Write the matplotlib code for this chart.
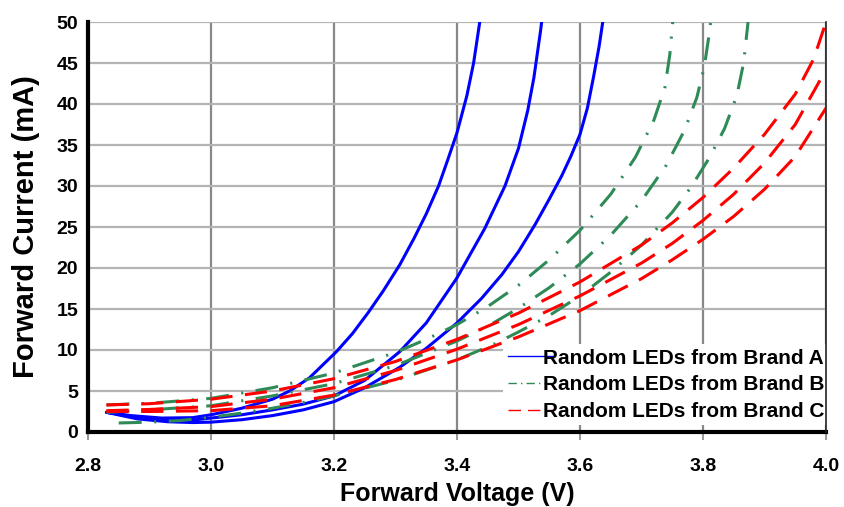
import matplotlib
matplotlib.use("Agg")
import matplotlib.pyplot as plt
from matplotlib.lines import Line2D

# ---------------- data ----------------
a1_v = [2.83, 2.87, 2.92, 2.97, 3.0, 3.05, 3.1, 3.128, 3.16, 3.204, 3.23, 3.256, 3.28, 3.307, 3.33, 3.35, 3.37, 3.385, 3.4, 3.416, 3.427, 3.438]
a1_i = [2.4, 2.0, 1.7, 1.75, 2.1, 2.9, 4.0, 5.0, 6.6, 9.8, 12.0, 14.6, 17.2, 20.4, 23.6, 26.6, 30.0, 33.2, 36.5, 41.0, 45.0, 50.5]

a2_v = [2.83, 2.88, 2.93, 2.97, 3.0, 3.05, 3.1, 3.15, 3.2, 3.25, 3.307, 3.35, 3.4, 3.445, 3.478, 3.5, 3.515, 3.525, 3.536, 3.54]
a2_i = [2.4, 1.8, 1.45, 1.45, 1.7, 2.1, 2.7, 3.4, 4.4, 6.3, 9.8, 13.3, 18.8, 24.8, 30.0, 34.6, 39.2, 43.2, 49.0, 51.5]

a3_v = [2.83, 2.88, 2.93, 2.97, 3.0, 3.05, 3.1, 3.15, 3.2, 3.25, 3.307, 3.35, 3.4, 3.44, 3.473, 3.5, 3.527, 3.55, 3.57, 3.585, 3.6, 3.612, 3.622, 3.631, 3.64]
a3_i = [2.4, 1.6, 1.25, 1.15, 1.2, 1.5, 2.0, 2.7, 3.7, 5.4, 7.9, 10.2, 13.3, 16.3, 19.2, 22.0, 25.3, 28.4, 31.2, 33.6, 36.3, 39.5, 43.3, 47.0, 51.5]

b1_v = [2.83, 2.9, 3.0, 3.1, 3.2, 3.3, 3.35, 3.4, 3.45, 3.5, 3.55, 3.6, 3.65, 3.69, 3.72, 3.738, 3.746, 3.752]
b1_i = [3.3, 3.5, 4.1, 5.4, 7.2, 9.7, 11.3, 13.1, 15.3, 17.9, 21.0, 24.6, 29.0, 33.5, 38.0, 42.0, 46.0, 51.0]

b2_v = [2.83, 2.9, 3.0, 3.1, 3.2, 3.3, 3.4, 3.45, 3.5, 3.55, 3.6, 3.65, 3.7, 3.74, 3.77, 3.79, 3.802, 3.81, 3.814]
b2_i = [2.4, 2.7, 3.2, 4.4, 5.9, 8.1, 11.1, 12.9, 15.1, 17.6, 20.5, 24.0, 28.2, 32.5, 36.8, 40.8, 44.5, 48.5, 51.0]

b3_v = [2.85, 2.9, 2.95, 3.0, 3.05, 3.1, 3.15, 3.2, 3.3, 3.4, 3.46, 3.5, 3.55, 3.6, 3.65, 3.7, 3.75, 3.78, 3.81, 3.835, 3.855, 3.866, 3.874]
b3_i = [1.1, 1.2, 1.4, 1.8, 2.3, 2.9, 3.6, 4.4, 6.3, 8.8, 10.7, 12.2, 14.2, 16.6, 19.5, 22.8, 26.8, 29.8, 33.4, 37.0, 41.0, 45.0, 50.5]

c1_v = [2.83, 2.9, 3.0, 3.1, 3.2, 3.3, 3.4, 3.5, 3.6, 3.7, 3.75, 3.8, 3.85, 3.9, 3.95, 3.98, 4.0]
c1_i = [3.3, 3.45, 4.0, 5.0, 6.5, 8.6, 11.3, 14.5, 18.3, 22.8, 25.5, 28.6, 32.2, 36.3, 41.2, 45.5, 50.0]

c2_v = [2.83, 2.9, 3.0, 3.1, 3.2, 3.3, 3.4, 3.5, 3.6, 3.7, 3.75, 3.8, 3.85, 3.9, 3.95, 4.0]
c2_i = [2.6, 2.75, 3.1, 4.0, 5.4, 7.5, 10.1, 13.1, 16.6, 20.6, 23.0, 25.8, 29.0, 32.8, 37.5, 44.2]

c3_v = [2.83, 2.9, 3.0, 3.1, 3.2, 3.3, 3.4, 3.5, 3.6, 3.7, 3.75, 3.8, 3.85, 3.9, 3.95, 4.0]
c3_i = [2.5, 2.5, 2.6, 3.2, 4.5, 6.4, 8.8, 11.6, 14.8, 18.7, 21.0, 23.5, 26.3, 29.6, 33.6, 39.5]

x_ticks = [2.8, 3.0, 3.2, 3.4, 3.6, 3.8, 4.0]
x_ticklabels = ["2.8", "3.0", "3.2", "3.4", "3.6", "3.8", "4.0"]
y_ticks = [0, 5, 10, 15, 20, 25, 30, 35, 40, 45, 50]
legend_labels = ["Random LEDs from Brand A", "Random LEDs from Brand B", "Random LEDs from Brand C"]

# ---------------- styling ----------------
plt.rcParams['font.family'] = ['Liberation Sans', 'DejaVu Sans']
plt.rcParams['lines.scale_dashes'] = False

BLUE = '#0000FF'
GREEN = '#2E8B57'
RED = '#FF0000'
LW = 2.2
green_dash = (0, (16.5, 9, 1.5, 9))
red_dash = (0, (16, 9))

fig = plt.figure(figsize=(8.44, 5.07), dpi=100)
ax = fig.add_axes([88/844, 75/507, (826-88)/844, (432-22)/507])

for v, i in [(a1_v, a1_i), (a2_v, a2_i), (a3_v, a3_i)]:
    ax.plot(v, i, color=BLUE, lw=LW, solid_capstyle='round', solid_joinstyle='round', zorder=3)
for v, i in [(b1_v, b1_i), (b2_v, b2_i), (b3_v, b3_i)]:
    ax.plot(v, i, color=GREEN, lw=LW, linestyle=green_dash, dash_capstyle='butt', zorder=3)
for v, i in [(c1_v, c1_i), (c2_v, c2_i), (c3_v, c3_i)]:
    ax.plot(v, i, color=RED, lw=LW, linestyle=red_dash, dash_capstyle='butt', zorder=3)

ax.set_xlim(2.8, 4.0)
ax.set_ylim(0, 50)
ax.set_xticks(x_ticks)
ax.set_xticklabels(x_ticklabels)
ax.set_yticks(y_ticks)

ax.xaxis.grid(True, color='#888888', lw=1.6)
ax.yaxis.grid(True, color='#b4b4b4', lw=1.6)
ax.set_axisbelow(True)

for s in ['left', 'bottom']:
    ax.spines[s].set_linewidth(3)
    ax.spines[s].set_color('black')
ax.spines['top'].set_visible(False)
ax.spines['right'].set_linewidth(1.2)
ax.spines['right'].set_color('#222222')
ax.spines['right'].set_zorder(6)

ax.tick_params(axis='x', length=6, width=1.2, color='#888888', pad=13,
               labelsize=14)
ax.tick_params(axis='y', length=0, pad=7, labelsize=14)
for lab in ax.get_xticklabels() + ax.get_yticklabels():
    lab.set_fontweight('bold')

ax.set_xlabel("Forward Voltage (V)", fontsize=18, fontweight='bold', labelpad=5)
ax.set_ylabel("Forward Current (mA)", fontsize=21, fontweight='bold', labelpad=12)

handles = [Line2D([], [], color=BLUE, lw=1.0),
           Line2D([], [], color=GREEN, lw=1.0, linestyle=(0, (6, 3, 1, 3))),
           Line2D([], [], color=RED, lw=1.0, linestyle=(0, (9, 5)))]
leg = ax.legend(handles, legend_labels, loc='upper left',
                bbox_to_anchor=(493/844, (507-334)/507), bbox_transform=fig.transFigure,
                frameon=True, facecolor='white', edgecolor='none', framealpha=1,
                fancybox=False, borderpad=0.2, handlelength=2.16, handletextpad=-0.48,
                labelspacing=0.37, prop={'family': 'Liberation Sans', 'weight': 'bold', 'size': 15})
leg.set_zorder(5)

fig.savefig("out.png", dpi=100)
